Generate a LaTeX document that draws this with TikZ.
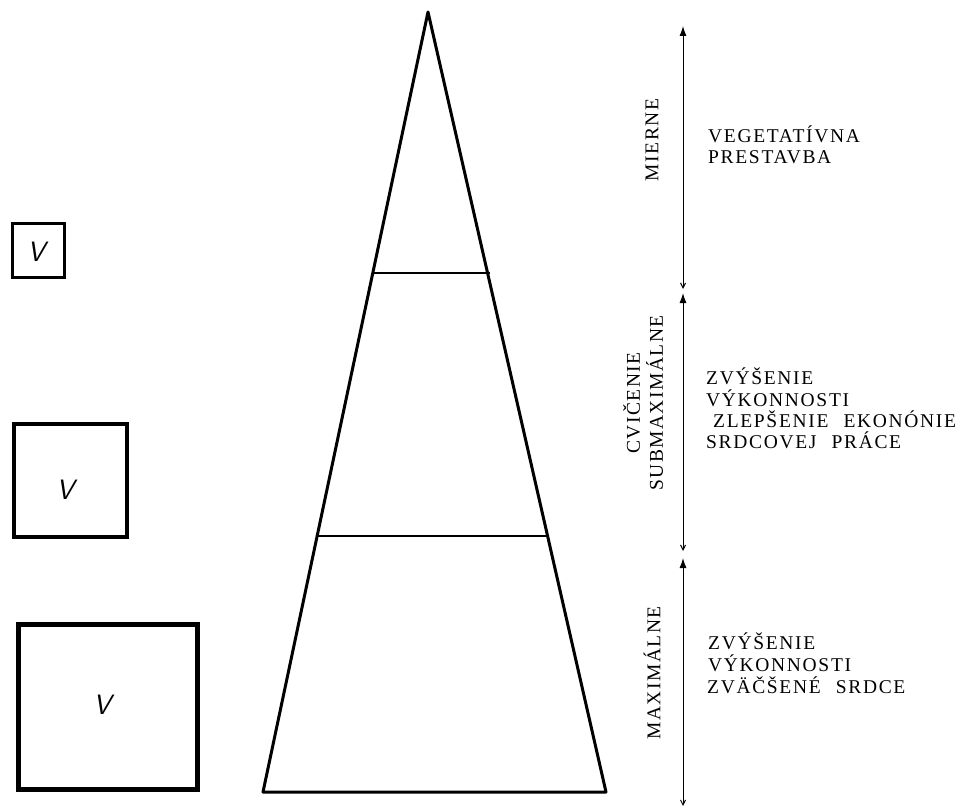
\documentclass[tikz,border=0pt]{standalone}
\usepackage{fontspec}
\newfontfamily\spcfont{Liberation Serif}[LetterSpace=8.6,WordSpace=2.3]
\newfontfamily\rotfont{Liberation Serif}[LetterSpace=7.5]
\usetikzlibrary{arrows.meta,calc}
\begin{document}
\begin{tikzpicture}[x=1pt,y=-1pt,
  side/.style={line width=3pt, line join=round, line cap=round},
  level/.style={line width=2.5pt},
  box/.style={line width=#1},
  vmark/.style={font=\fontsize{28}{28}\selectfont\sffamily\itshape, inner sep=0},
  lbl/.style={font=\spcfont\fontsize{19.5}{22}\selectfont, inner sep=0, anchor=base west},
  rot/.style={font=\rotfont\fontsize{19.5}{23}\selectfont, inner sep=0, rotate=90, align=center},
  rng/.style={line width=1pt, {Straight Barb[length=5pt,width=5pt]}-{Latex[length=10pt,width=7pt]}}]
\useasboundingbox (0,0) rectangle (966,810);

% boxes with V
\draw[box=3pt] (12,224) rectangle (64,278);
\node[vmark] (v1) at (36,252) {V};
\draw[box=4pt] (14,424) rectangle (127,537);
\node[vmark] (v2) at (65,490) {V};
\draw[box=5pt] (18,624) rectangle (197,789);
\node[vmark] (v3) at (102,705) {V};

% triangle
\coordinate (apex) at (428,12);
\coordinate (bl) at (263,792);
\coordinate (br) at (606,792);
\draw[side] (apex) -- (bl) -- (br) -- cycle;
\draw[level] ($(apex)!0.3346!(bl)$) -- ($(apex)!0.3346!(br)+(2,0)$);
\draw[level] ($(apex)!0.6718!(bl)$) -- ($(apex)!0.6718!(br)+(1,0)$);

% range arrows
\coordinate (a1t) at (683,26);  \coordinate (a1b) at (683,289);
\coordinate (a2t) at (683,293); \coordinate (a2b) at (683,551);
\coordinate (a3t) at (683,558); \coordinate (a3b) at (683,806);
\draw[rng] (a1b) -- (a1t);
\draw[rng] (a2b) -- (a2t);
\draw[rng] (a3b) -- (a3t);

% rotated labels
\node[rot] (mierne) at (652,140) {MIERNE};
\node[rot] (submax) at (643,403) {CVIČENIE\\SUBMAXIMÁLNE};
\node[rot] (max) at (652,673) {MAXIMÁLNE};

% right texts
\node[lbl] (t11) at (708,143) {VEGETATÍVNA};
\node[lbl] (t12) at (708,164) {PRESTAVBA};

\node[lbl] (t21) at (706,384) {ZVÝŠENIE};
\node[lbl] (t22) at (706,406) {VÝKONNOSTI};
\node[lbl] (t23) at (713,427) {ZLEPŠENIE EKONÓNIE};
\node[lbl] (t24) at (706,448) {SRDCOVEJ PRÁCE};

\node[lbl] (t31) at (708,649) {ZVÝŠENIE};
\node[lbl] (t32) at (708,671) {VÝKONNOSTI};
\node[lbl] (t33) at (707,693) {ZVÄČŠENÉ SRDCE};
\end{tikzpicture}
\end{document}
